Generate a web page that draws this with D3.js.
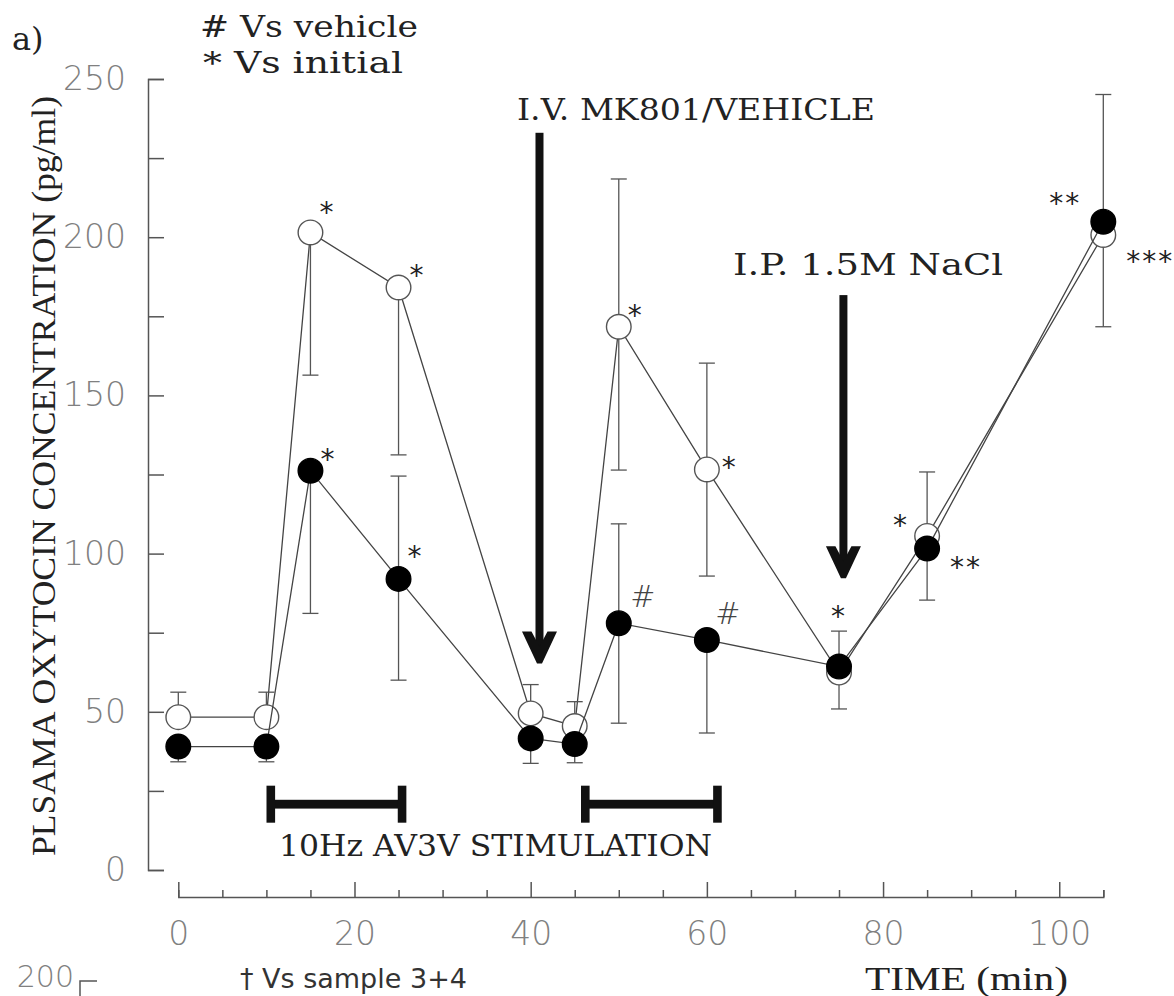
<!DOCTYPE html>
<html>
<head>
<meta charset="utf-8">
<script src="https://cdn.jsdelivr.net/npm/d3@7"></script>
<style>
  body { margin: 0; background: #fff; }
  svg { display: block; }
</style>
</head>
<body>
<svg id="chart" width="1174" height="996"></svg>
<script>
// Sampling times (min)
const times = [0, 10, 15, 25, 40, 45, 50, 60, 75, 85, 105];

// Vehicle group (open circles), pg/ml
const vehicle      = [48.3, 48.3, 201.5, 184.1, 49.5, 45.5, 171.7, 126.6, 62.4, 105.6, 200.7];
const vehicleUpper = [56.2, 56.2, null, null, 58.6, 53.2, 218.4, 160.2, null, 125.8, null];
const vehicleLower = [null, null, 156.4, 131.2, null, null, 126.4, 92.9, 50.9, null, 171.7];
const vehicleSig   = ["", "", "*", "*", "", "", "*", "*", "*", "*", "***"];

// MK801 group (filled circles), pg/ml
const mk801      = [39.0, 39.0, 126.2, 92.0, 41.6, 39.8, 78.0, 72.7, 64.3, 101.6, 204.9];
const mk801Upper = [null, null, null, 124.5, null, null, 109.4, null, 75.5, null, 245.1];
const mk801Lower = [34.2, 34.2, 81.1, 60.0, 33.7, 33.9, 46.4, 43.3, null, 85.3, null];
const mk801Sig   = ["", "", "*", "*", "", "", "#", "#", "", "**", "**"];

// Treatment arrows: time, start and end level (pg/ml)
const arrowLabels = ["I.V. MK801/VEHICLE", "I.P. 1.5M NaCl"];
const arrowTimes  = [41, 75.5];
const arrowFrom   = [233, 181.7];
const arrowTo     = [65.3, 92.2];

// Stimulation periods (min)
const stimStart = [10.5, 46.2];
const stimEnd   = [25.4, 61.2];
const stimLevel = 20.8;

// Axis ticks
const yTicks = d3.range(0, 251, 25);
const xTicks = d3.range(0, 106, 5);

const svg = d3.select("#chart");
svg.append("rect").attr("width", 1174).attr("height", 996).attr("fill", "#fff");

const x = d3.scaleLinear().domain([0, 105]).range([178.3, 1103.3]);
const y = d3.scaleLinear().domain([0, 250]).range([870, 79]);

const AXIS = "#555";
const LABEL_FONT = "'DejaVu Sans', sans-serif";
const SERIF = "'DejaVu Serif', serif";
const TIMES = "'Liberation Serif', serif";

// ---- y axis ----
const yAxis = svg.append("g")
  .attr("transform", "translate(148,0)")
  .call(d3.axisLeft(y).tickValues(yTicks)
    .tickSizeInner(-16).tickSizeOuter(-16).tickPadding(22)
    .tickFormat(d => d % 50 === 0 ? d : ""));
yAxis.selectAll("path, line").attr("stroke", AXIS).attr("stroke-width", 1.5);
yAxis.selectAll("text")
  .attr("font-family", LABEL_FONT).attr("font-weight", 200)
  .attr("font-size", 33).attr("fill", "#808080");

// ---- x axis ----
const xAxis = svg.append("g")
  .attr("transform", "translate(0,897)")
  .call(d3.axisBottom(x).tickValues(xTicks)
    .tickSizeInner(-7).tickSizeOuter(-7).tickPadding(25)
    .tickFormat(d => d % 20 === 0 ? d : ""));
xAxis.selectAll(".tick").filter(d => d % 20 === 0).select("line").attr("y2", -15);
xAxis.selectAll("path, line").attr("stroke", AXIS).attr("stroke-width", 1.5);
xAxis.selectAll("text")
  .attr("font-family", LABEL_FONT).attr("font-weight", 200)
  .attr("font-size", 33).attr("fill", "#808080");

// ---- axis titles ----
svg.append("text")
  .attr("transform", "translate(55,476) rotate(-90)")
  .attr("text-anchor", "middle")
  .attr("font-family", TIMES).attr("font-size", 33).attr("fill", "#222")
  .attr("textLength", 760).attr("lengthAdjust", "spacingAndGlyphs")
  .text("PLSAMA OXYTOCIN CONCENTRATION (pg/ml)");

svg.append("text")
  .attr("x", 865).attr("y", 990)
  .attr("font-family", TIMES).attr("font-size", 33).attr("fill", "#222")
  .attr("textLength", 203).attr("lengthAdjust", "spacingAndGlyphs")
  .text("TIME (min)");

svg.append("text")
  .attr("x", 240).attr("y", 988)
  .attr("font-family", LABEL_FONT).attr("font-size", 27).attr("fill", "#333")
  .text("\u2020 Vs sample 3+4");

// beginning of the following panel's axis
svg.append("text")
  .attr("x", 74).attr("y", 987).attr("text-anchor", "end")
  .attr("font-family", LABEL_FONT).attr("font-weight", 200)
  .attr("font-size", 30).attr("fill", "#808080")
  .text("200");
svg.append("path")
  .attr("d", "M97,981H80V996")
  .attr("fill", "none").attr("stroke", AXIS).attr("stroke-width", 1.5);

// ---- panel label and legend ----
svg.append("text").attr("x", 12).attr("y", 50)
  .attr("font-family", SERIF).attr("font-size", 32).attr("fill", "#222").text("a)");
svg.append("text").attr("x", 200).attr("y", 37)
  .attr("font-family", SERIF).attr("font-size", 29).attr("fill", "#222")
  .attr("textLength", 218).attr("lengthAdjust", "spacingAndGlyphs")
  .text("# Vs vehicle");
svg.append("text").attr("x", 203).attr("y", 73)
  .attr("font-family", SERIF).attr("font-size", 29).attr("fill", "#222")
  .attr("textLength", 200).attr("lengthAdjust", "spacingAndGlyphs")
  .text("* Vs initial");

// ---- treatment arrows ----
const arrowLabelPos = [[517, 120, 358], [733, 275, 270]];
arrowTimes.forEach((t, i) => {
  const ax = x(t), top = y(arrowFrom[i]), tip = y(arrowTo[i]);
  svg.append("rect")
    .attr("x", ax - 4).attr("y", top).attr("width", 8).attr("height", tip - top - 14)
    .attr("fill", "#111");
  const hb = tip - 32;
  svg.append("polygon")
    .attr("points", [
      [ax - 17.5, hb], [ax - 8, hb], [ax, hb + 15], [ax + 8, hb],
      [ax + 17.5, hb], [ax + 2.5, tip], [ax - 2.5, tip]
    ].map(p => p.join(",")).join(" "))
    .attr("fill", "#111");
  const [lx, ly, lw] = arrowLabelPos[i];
  svg.append("text").attr("x", lx).attr("y", ly)
    .attr("font-family", SERIF).attr("font-size", 30).attr("fill", "#222")
    .attr("textLength", lw).attr("lengthAdjust", "spacingAndGlyphs")
    .text(arrowLabels[i]);
});

// ---- stimulation bars ----
stimStart.forEach((s, i) => {
  const x0 = x(s), x1 = x(stimEnd[i]), yc = y(stimLevel);
  svg.append("rect").attr("x", x0).attr("y", yc - 4.4).attr("width", x1 - x0).attr("height", 8.8).attr("fill", "#111");
  [x0, x1].forEach(cx => svg.append("rect")
    .attr("x", cx - 4.3).attr("y", yc - 18.5).attr("width", 8.6).attr("height", 37).attr("fill", "#111"));
});
svg.append("text").attr("x", 279).attr("y", 856)
  .attr("font-family", SERIF).attr("font-size", 30).attr("fill", "#222")
  .attr("textLength", 433).attr("lengthAdjust", "spacingAndGlyphs")
  .text("10Hz AV3V STIMULATION");

// ---- data series ----
const R = 12.3, CAP = 8;
function drawSeries(values, upper, lower, filled) {
  const g = svg.append("g");
  const line = d3.line().x((d, i) => x(times[i])).y(d => y(d));
  g.append("path").attr("d", line(values))
    .attr("fill", "none").attr("stroke", "#444").attr("stroke-width", 1.3);
  values.forEach((v, i) => {
    const cx = x(times[i]);
    [upper[i], lower[i]].forEach(e => {
      if (e == null) return;
      g.append("line").attr("x1", cx).attr("x2", cx).attr("y1", y(v)).attr("y2", y(e))
        .attr("stroke", "#555").attr("stroke-width", 1.3);
      g.append("line").attr("x1", cx - CAP).attr("x2", cx + CAP).attr("y1", y(e)).attr("y2", y(e))
        .attr("stroke", "#555").attr("stroke-width", 1.3);
    });
  });
  g.selectAll("circle").data(values).join("circle")
    .attr("cx", (d, i) => x(times[i])).attr("cy", d => y(d)).attr("r", R)
    .attr("fill", filled ? "#000" : "#fff")
    .attr("stroke", filled ? "#000" : "#555").attr("stroke-width", 1.4);
}
drawSeries(vehicle, vehicleUpper, vehicleLower, false);
drawSeries(mk801, mk801Upper, mk801Lower, true);

// ---- significance marks, placed beside their points ----
const vehicleSigOffset = {2: [17, -26], 3: [19, -19], 6: [17, -18], 7: [23, -8], 8: [0, -63], 9: [-26, -17], 10: [47, 20]};
const mk801SigOffset = {2: [18, -18], 3: [17, -29], 6: [24, -27], 7: [21, -27], 9: [39, 12], 10: [-38, -25]};
function drawSig(values, marks, offsets) {
  marks.forEach((m, i) => {
    if (!m) return;
    const [dx, dy] = offsets[i];
    const cx = x(times[i]) + dx, cy = y(values[i]) + dy;
    const hash = m === "#";
    svg.append("text")
      .attr("x", cx).attr("y", hash ? cy + 11 : cy + 16)
      .attr("text-anchor", "middle")
      .attr("font-family", LABEL_FONT)
      .attr("font-weight", hash ? 200 : 400)
      .attr("font-size", hash ? 30 : 28)
      .attr("fill", hash ? "#444" : "#222")
      .attr("letter-spacing", hash ? 0 : 2)
      .text(m);
  });
}
drawSig(vehicle, vehicleSig, vehicleSigOffset);
drawSig(mk801, mk801Sig, mk801SigOffset);
</script>
</body>
</html>
